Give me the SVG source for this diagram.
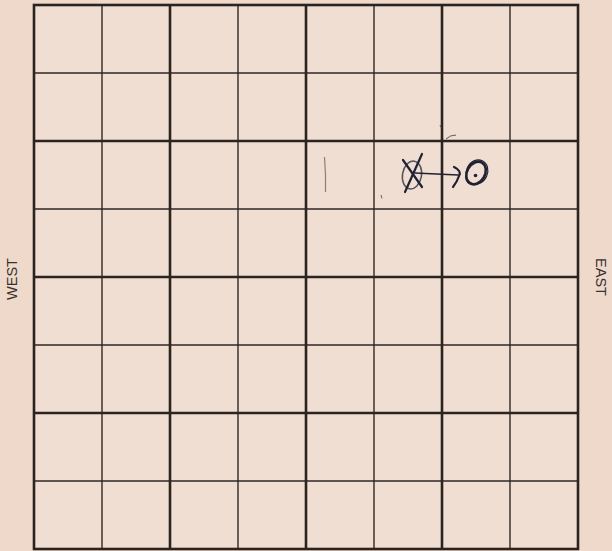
<svg xmlns="http://www.w3.org/2000/svg" width="612" height="551" viewBox="0 0 612 551">
<style>
.thin{stroke:#2e2724;stroke-width:1.4;fill:none}
.thick{stroke:#2a2320;stroke-width:2.6;fill:none}
.lbl{font-family:"Liberation Sans",Arial,sans-serif;font-size:14.5px;fill:#3a3030;text-anchor:middle}
.ink{stroke:#1f2233;fill:none;stroke-linecap:round;stroke-linejoin:round}
</style>
<rect x="0" y="0" width="612" height="551" fill="#eed9cb"/>
<rect x="34" y="5" width="544" height="544" fill="#f1ded2"/>
<g id="grid">
<g class="thin">
<line x1="102" y1="5" x2="102" y2="549"/>
<line x1="238" y1="5" x2="238" y2="549"/>
<line x1="374" y1="5" x2="374" y2="549"/>
<line x1="510" y1="5" x2="510" y2="549"/>
<line x1="34" y1="73" x2="578" y2="73"/>
<line x1="34" y1="209" x2="578" y2="209"/>
<line x1="34" y1="345" x2="578" y2="345"/>
<line x1="34" y1="481" x2="578" y2="481"/>
</g>
<g class="thick">
<line x1="170" y1="5" x2="170" y2="549"/>
<line x1="306" y1="5" x2="306" y2="549"/>
<line x1="442" y1="5" x2="442" y2="549"/>
<line x1="34" y1="141" x2="578" y2="141"/>
<line x1="34" y1="277" x2="578" y2="277"/>
<line x1="34" y1="413" x2="578" y2="413"/>
<rect x="34" y="5" width="544" height="544"/>
</g>
</g>
<g id="labels">
<text class="lbl" transform="translate(17,279) rotate(-90)">WEST</text>
<text class="lbl" transform="translate(596,277) rotate(90)">EAST</text>
</g>
<g id="marks">
<path d="M324.5 157 Q326 175 325.5 192" stroke="#8a7f78" stroke-width="1.2" fill="none"/>
<path d="M381 195 L382 198.5" stroke="#6a5f58" stroke-width="1" fill="none"/>
<path d="M446 139 Q450 135 456 135" stroke="#5a5a6a" stroke-width="1" fill="none"/>
<path d="M440 125 L441 127.5" stroke="#6a5f58" stroke-width="1" fill="none"/>
</g>
<g id="start">
<ellipse class="ink" cx="412" cy="175" rx="9.5" ry="14" transform="rotate(10 412 175)" stroke-width="1.5" opacity="0.75"/>
<path class="ink" d="M403 160 L422 187" stroke-width="2.2"/>
<path class="ink" d="M405 192 L422 154" stroke-width="2.2"/>
</g>
<g id="connectors">
<path class="ink" d="M415 173 L458 175" stroke-width="1.5"/>
<path class="ink" d="M454 167 Q462 171 459 176 Q457 182 453 187" stroke-width="2.2"/>
</g>
<g id="target">
<ellipse class="ink" cx="476" cy="173" rx="9" ry="12" transform="rotate(30 476 173)" stroke-width="2.6"/>
<ellipse class="ink" cx="477" cy="172" rx="10.5" ry="12.5" transform="rotate(25 477 172)" stroke-width="1.2"/>
<circle cx="475.5" cy="175.5" r="1.8" fill="#1f2233"/>
</g>
</svg>
